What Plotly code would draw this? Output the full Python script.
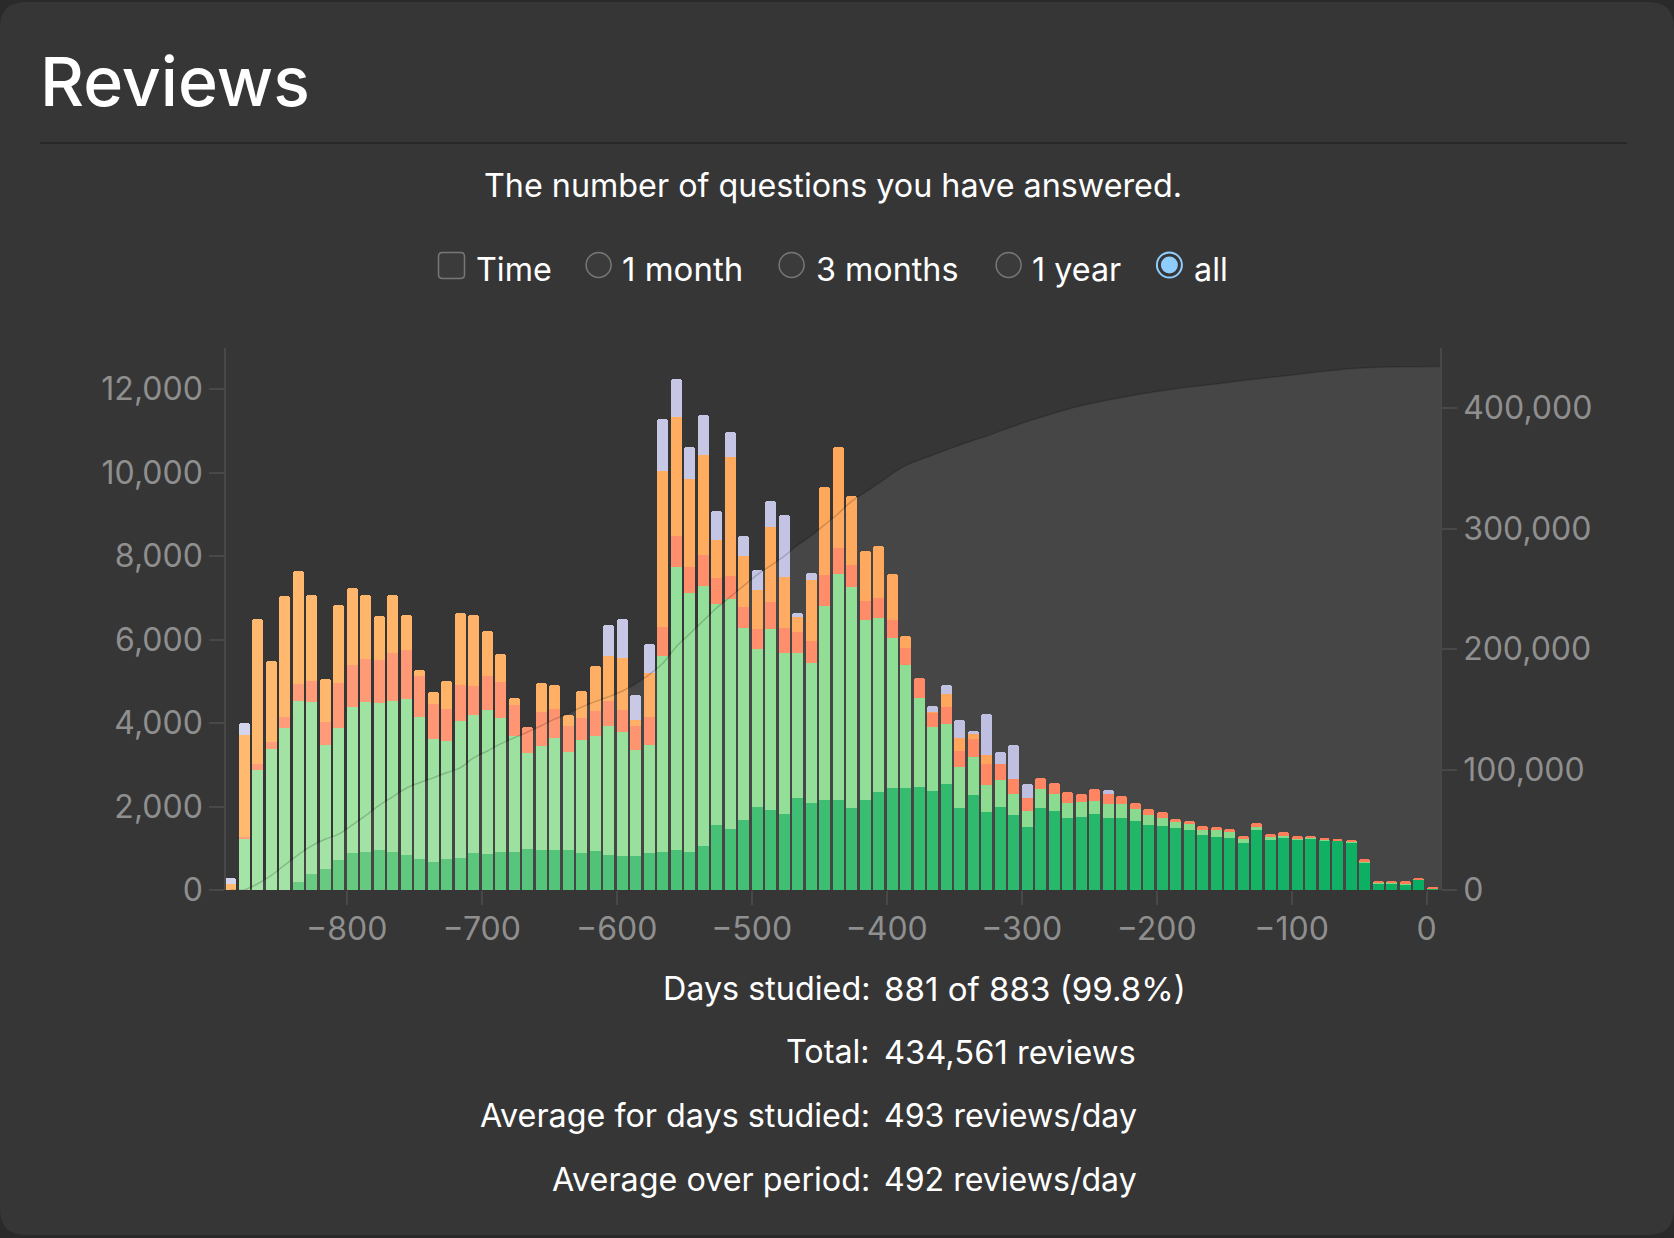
import plotly.graph_objects as go
import numpy as np

W, H = 1674, 1238

# Bin centres, days relative to today
days = [-886,-876,-866,-856,-846,-836,-826,-816,-806,-796,-786,-776,-766,-756,-746,-736,-726,-716,-706,-696,
        -686,-676,-666,-656,-646,-636,-626,-616,-606,-596,-586,-576,-566,-556,-546,-536,-526,-516,-506,-496,
        -486,-476,-466,-456,-446,-436,-426,-416,-406,-396,-386,-376,-366,-356,-346,-336,-326,-316,-306,-296,
        -286,-276,-266,-256,-246,-236,-226,-216,-206,-196,-186,-176,-166,-156,-146,-136,-126,-116,-106,-96,
        -86,-76,-66,-56,-46,-36,-26,-16,-6,4]

mature = [0,0,0,0,0,195,372,505,709,895,904,966,904,842,744,682,744,771,895,869,
          904,904,984,948,957,948,877,939,833,815,807,886,922,948,904,1055,1560,1454,1675,1985,
          1914,1826,2216,2083,2154,2163,1976,2145,2358,2446,2437,2464,2375,2544,1959,2287,1861,1994,1799,1516,
          1968,1897,1719,1755,1817,1728,1737,1657,1569,1542,1489,1436,1321,1259,1250,1134,1436,1197,1250,1205,
          1232,1197,1179,1143,647,151,160,142,248,35]
young = [0,1232,2880,3368,3882,4343,4139,2978,3164,3483,3607,3510,3634,3740,3395,2934,2827,3270,3297,3448,
         3208,2792,2304,2499,2677,2366,2712,2756,3093,2978,2553,2579,4689,6789,6204,6240,5291,5522,4609,3793,
         4352,3855,3465,3350,4653,5415,5273,4316,4157,3598,2943,2136,1533,1445,984,904,665,638,496,381,
         452,399,372,346,310,337,328,284,230,195,133,142,115,168,133,80,62,62,35,18,
         27,9,18,18,18,18,18,18,9,0]
relearn = [0,35,150,168,257,399,496,550,1081,1002,1028,1028,1143,1170,993,842,762,860,700,815,
           869,727,612,815,700,612,523,603,612,523,576,674,682,744,629,736,629,558,496,487,
           647,603,505,523,744,612,550,470,487,425,425,487,337,399,399,417,505,390,355,319,
           275,266,257,195,284,230,177,142,133,133,89,71,97,89,80,71,106,80,106,71,
           44,18,9,35,80,35,27,44,35,18]
learn = [133,2446,3457,1959,2907,2712,2056,1019,1870,1861,1542,1055,1391,842,151,275,674,1737,1693,1064,
         682,177,0,691,576,257,665,1064,1064,1241,133,1064,3758,2854,2118,2384,913,2854,1223,913,
         1781,1205,363,1462,2109,2420,1640,1188,1232,1099,292,0,27,301,292,124,204,0,0,0,
         0,0,0,0,0,0,0,0,0,0,0,0,0,0,0,0,0,0,0,0,
         0,0,0,0,0,0,0,0,0,0]
filtered = [150,292,0,0,0,0,0,0,0,0,0,0,0,0,0,0,0,0,0,0,
            0,0,0,0,0,0,0,0,753,948,594,700,1241,922,762,957,700,594,470,479,
            620,1507,80,186,0,0,0,0,0,0,0,0,142,222,443,71,975,275,824,328,
            0,0,0,0,0,106,0,0,0,0,0,0,0,0,0,0,0,0,0,0,
            0,0,0,0,0,0,0,0,0,0]
cumulative = [0,0,5200,12000,20600,29200,36600,42100,46400,53800,61700,70300,77400,84500,89100,93100,97400,101400,109700,115200,
              121300,126300,131200,136400,141900,146500,151800,156400,160400,165000,171100,178800,188000,201800,212600,223300,234100,243300,252500,261700,
              269400,277100,286300,294000,303200,312400,322600,330200,337600,345600,352400,357000,361000,365300,369300,373200,376700,381000,385000,389000,
              392500,395900,399200,402000,404500,406800,408900,410900,412800,414600,416200,417600,418900,420200,421600,423000,424300,425600,426800,428100,
              429400,430600,431800,432900,433700,434100,434300,434400,434500,434561,434561]
cumulative_days = days + [9.9]

x_ticks = [-800,-700,-600,-500,-400,-300,-200,-100,0]
left_ticks = [0,2000,4000,6000,8000,10000,12000]
right_ticks = [0,100000,200000,300000,400000]
stats_labels = ["Days studied:", "Total:", "Average for days studied:", "Average over period:"]
stats_values = ["881 of 883 (99.8%)", "434,561 reviews", "493 reviews/day", "492 reviews/day"]
range_options = ["1 month", "3 months", "1 year", "all"]

FONT = "Inter, Roboto, sans-serif"

def ramp(start, end):
    a, b = np.array(start, float), np.array(end, float)
    t = np.linspace(0, 1, len(days))[:, None]
    return ["rgb(%d,%d,%d)" % tuple(v) for v in (a + (b - a) * t).round()]

series = [
    ("Mature", mature, ramp((108, 204, 128), (0, 172, 92))),
    ("Young", young, ramp((164, 228, 166), (122, 214, 130))),
    ("Relearning", relearn, ramp((255, 158, 124), (255, 118, 80))),
    ("Learning", learn, ramp((255, 186, 112), (255, 150, 70))),
    ("Filtered", filtered, ramp((212, 212, 236), (176, 176, 218))),
]

fig = go.Figure()
# area first so that most of its tint lies under the bars
fig.add_scatter(x=cumulative_days, y=cumulative, yaxis="y", mode="none", name="Cumulative area",
                fill="tozeroy", fillcolor="rgba(255,255,255,0.06)")
for name, vals, cols in series:
    fig.add_bar(x=days, y=vals, name=name, width=8.15, marker=dict(color=cols, line=dict(width=0)), yaxis="y2")
fig.add_scatter(x=cumulative_days, y=cumulative, yaxis="y3", mode="lines", name="Cumulative",
                line=dict(color="rgba(0,0,0,0.18)", width=1.5, shape="spline", smoothing=1),
                fill="tozeroy", fillcolor="rgba(255,255,255,0.03)")

def px(x): return x / W
def py(y): return 1 - y / H

shapes = []
r = 26; x0, x1, y0, y1 = 0, W, 2, H - 3
path = (f"M {px(x0)} {py(y0+r)} Q {px(x0)} {py(y0)} {px(x0+r)} {py(y0)} L {px(x1-r)} {py(y0)} "
        f"Q {px(x1)} {py(y0)} {px(x1)} {py(y0+r)} L {px(x1)} {py(y1-r)} Q {px(x1)} {py(y1)} {px(x1-r)} {py(y1)} "
        f"L {px(x0+r)} {py(y1)} Q {px(x0)} {py(y1)} {px(x0)} {py(y1-r)} Z")
shapes.append(dict(type="path", xref="paper", yref="paper", path=path, fillcolor="#363636", line=dict(width=0), layer="below"))
shapes.append(dict(type="line", xref="paper", yref="paper", x0=px(40), x1=px(1627), y0=py(143), y1=py(143),
                   line=dict(color="#242424", width=1.5), layer="below"))

cb = (438.5, 252.5, 464.5, 278.5); c = 4
cpath = (f"M {px(cb[0])} {py(cb[1]+c)} Q {px(cb[0])} {py(cb[1])} {px(cb[0]+c)} {py(cb[1])} L {px(cb[2]-c)} {py(cb[1])} "
         f"Q {px(cb[2])} {py(cb[1])} {px(cb[2])} {py(cb[1]+c)} L {px(cb[2])} {py(cb[3]-c)} Q {px(cb[2])} {py(cb[3])} {px(cb[2]-c)} {py(cb[3])} "
         f"L {px(cb[0]+c)} {py(cb[3])} Q {px(cb[0])} {py(cb[3])} {px(cb[0])} {py(cb[3]-c)} Z")
shapes.append(dict(type="path", xref="paper", yref="paper", path=cpath, fillcolor="#3b3b3b", line=dict(color="#777777", width=1.5), layer="below"))

def circle(cx, cy, rad, fill, line, lw=1.5):
    return dict(type="circle", xref="paper", yref="paper", x0=px(cx-rad), x1=px(cx+rad), y0=py(cy+rad), y1=py(cy-rad),
                fillcolor=fill, line=dict(color=line, width=lw), layer="below")
for cx in (598.6, 791.6, 1008.6):
    shapes.append(circle(cx, 265, 12.5, "#3b3b3b", "#777777"))
shapes.append(circle(1169.4, 265, 12.5, "#363636", "#8fcdfd", 2))
shapes.append(circle(1169.4, 265, 8.5, "#8fcdfd", "#8fcdfd", 0))

ann = []
def text(x, y, s, size=32.3, anchor="left", color="#ffffff", weight=None):
    f = dict(family=FONT, size=size, color=color)
    if weight: f["weight"] = weight
    ann.append(dict(xref="paper", yref="paper", x=px(x), y=py(y), text=s, showarrow=False, xanchor=anchor,
                    yanchor="middle", font=f, borderpad=0, borderwidth=0))

text(40, 81, "Reviews", size=68, weight=500)
text(833, 185, "The number of questions you have answered.", anchor="center")
text(475.5, 269, "Time")
for s, x, size in zip(range_options, (622, 816, 1032, 1194), (33, 32.3, 32.3, 32.3)):
    text(x, 269, s, size=size)
for lab, val, y, size in zip(stats_labels, stats_values, (988.6, 1051.6, 1115.6, 1179.7), (33.1, 32.7, 32.1, 32.1)):
    text(870, y, lab, anchor="right")
    text(883.5, y, val, size=size)

axis_col = "#484848"
tick_font = dict(family=FONT, size=32, color="#8f8f8f")
plot_dom = [py(890), py(348)]
fig.update_layout(
    width=W, height=H, autosize=False, showlegend=False,
    margin=dict(l=0, r=0, t=0, b=0, pad=0, autoexpand=False),
    paper_bgcolor="#2a2a2a", plot_bgcolor="rgba(0,0,0,0)",
    barmode="stack", bargap=0, barcornerradius=3,
    shapes=shapes, annotations=ann,
    xaxis=dict(domain=[px(226), px(1440)], range=[-889.4, 9.9], tickmode="array", tickvals=x_ticks, automargin=False,
               ticks="outside", ticklen=14, tickcolor=axis_col, tickwidth=1.5, showgrid=False, zeroline=False,
               showline=False, tickfont=tick_font, ticklabelstandoff=-3),
    yaxis=dict(domain=plot_dom, range=[0, 450000], anchor="x", automargin=False, side="right", tickmode="array",
               tickvals=right_ticks, tickformat=",d", ticks="outside", ticklen=15, tickcolor=axis_col, tickwidth=1.5,
               showgrid=False, zeroline=False, showline=True, linecolor=axis_col, linewidth=1.5, tickfont=tick_font),
    yaxis2=dict(domain=plot_dom, range=[0, 12988], overlaying="y", side="left", anchor="x", automargin=False, tickmode="array",
                tickvals=left_ticks, tickformat=",d", ticks="outside", ticklen=15, tickcolor=axis_col, tickwidth=1.5,
                showgrid=False, zeroline=False, showline=True, linecolor=axis_col, linewidth=1.5, tickfont=tick_font),
    yaxis3=dict(domain=plot_dom, range=[0, 450000], anchor="x", automargin=False, overlaying="y", side="right", visible=False,
                showgrid=False, zeroline=False),
)
fig.write_html("out.html", config={"responsive": False, "displayModeBar": False},
               post_script="document.body.style.margin='0';document.body.style.overflow='hidden';document.body.style.background='#2a2a2a';")
